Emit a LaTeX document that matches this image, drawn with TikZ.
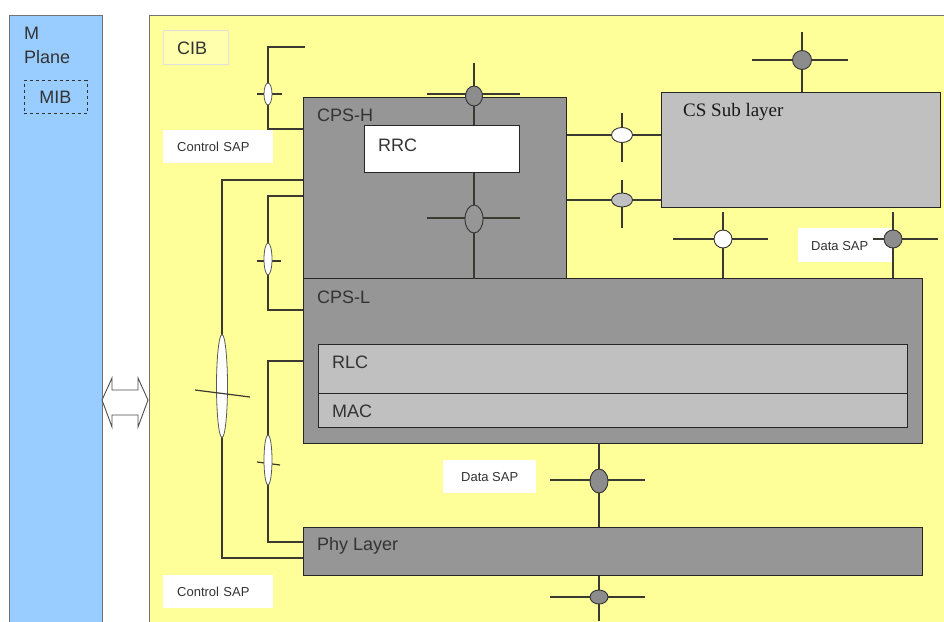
\documentclass[tikz,border=0pt]{standalone}
\usepackage{fontspec}
\setmainfont{Liberation Sans}
\newfontfamily\csfont{Liberation Serif}
\usetikzlibrary{shapes.geometric,positioning,calc}

\definecolor{mplane}{HTML}{99CCFF}
\definecolor{cibfill}{HTML}{FFFF99}
\definecolor{cps}{HTML}{969696}
\definecolor{sub}{HTML}{C0C0C0}
\definecolor{wire}{HTML}{3A3A30}
\definecolor{tapgray}{HTML}{8C8C8C}

\tikzset{
  box/.style={draw=black!85, line width=1pt, anchor=north west, inner sep=0pt},
  lbl/.style={anchor=west, inner sep=0pt, font=\fontsize{18}{20}\selectfont, text=black!80},
  sapbox/.style={fill=white, anchor=north west, inner sep=0pt},
  saptxt/.style={inner sep=0pt, font=\fontsize{13}{15}\selectfont, text=black!80},
  wire/.style={draw=wire, line width=1.2pt},
  tap/.style={ellipse, draw=black!80, line width=0.9pt, inner sep=0pt, fill=tapgray},
  slim/.style={ellipse, draw=black!65, line width=0.8pt, inner sep=0pt, fill=white},
}

\begin{document}
\begin{tikzpicture}[x=1pt,y=-1pt]
\useasboundingbox (0,0) rectangle (944,621);

% Planes
\node[box, draw=black!55, fill=mplane, minimum width=93pt, minimum height=620pt] (mpl) at (9,15) {};
\node[box, draw=black!55, fill=cibfill, minimum width=800pt, minimum height=620pt] (cib) at (149,15) {};
\node[lbl] (mtxt) at (24,33) {M};
\node[lbl] (planetxt) at (24,57) {Plane};
\node[draw=black!80, dashed, line width=0.8pt, minimum width=63pt, minimum height=33pt, inner sep=0pt] (mib) at (55.5,97) {};
\node[lbl, anchor=center] (mibtxt) at (mib) {MIB};
\node[box, draw=black!12, fill=cibfill!80!white, minimum width=65pt, minimum height=34pt] (cibbox) at (163,30) {};
\node[lbl] (cibtxt) at (177,48) {CIB};

% Double arrow between planes
\draw[draw=black!70, fill=white, line width=0.9pt]
  (102,400) -- (112,378) -- (112,390) -- (138,390) -- (138,378) -- (148,400)
  -- (138,427) -- (138,415) -- (112,415) -- (112,427) -- cycle;

% Layers
\node[box, fill=cps, minimum width=263pt, minimum height=181pt] (cpsh) at (303,97) {};
\node[lbl] (cpshtxt) at (317,115) {CPS-H};
\node[box, fill=white, minimum width=155pt, minimum height=47pt] (rrc) at (364,125) {};
\node[lbl] (rrctxt) at (378,145) {RRC};
\node[box, fill=cps, minimum width=619pt, minimum height=165pt] (cpsl) at (303,278) {};
\node[lbl] (cpsltxt) at (317,297) {CPS-L};
\node[box, fill=sub, minimum width=589pt, minimum height=49pt] (rlc) at (318,344) {};
\node[lbl] (rlctxt) at (332,362) {RLC};
\node[box, fill=sub, minimum width=589pt, minimum height=34pt] (mac) at (318,393) {};
\node[lbl] (mactxt) at (332,411) {MAC};
\node[box, fill=cps, minimum width=619pt, minimum height=48pt] (phy) at (303,527) {};
\node[lbl] (phytxt) at (317,546) {Phy Layer};
\node[box, fill=sub, minimum width=279pt, minimum height=115pt] (cs) at (661,92) {};
\node[lbl, font=\csfont\fontsize{19}{21}\selectfont, text=black!90] (cstxt) at (683,112) {CS Sub layer};

% SAP labels
\node[sapbox, minimum width=110pt, minimum height=33pt] (csap1) at (163,130) {};
\node[saptxt, anchor=west] (csap1txt) at (177,147) {Control\,\,SAP};
\node[sapbox, minimum width=110pt, minimum height=33pt] (csap2) at (163,575) {};
\node[saptxt, anchor=west] (csap2txt) at (177,592) {Control\,\,SAP};
\node[sapbox, minimum width=93pt, minimum height=33pt] (dsap1) at (443,460) {};
\node[saptxt] (dsap1txt) at (dsap1) {Data SAP};
\node[sapbox, minimum width=94pt, minimum height=34pt] (dsap2) at (798,228) {};
\node[saptxt, anchor=west] (dsap2txt) at (811,246) {Data SAP};

% Taps through CPS-H
\coordinate (a1) at (474,63);
\draw[wire] (a1) -- (a1 |- rrc.north);
\draw[wire] (a1 |- rrc.south) -- (a1 |- cpsh.south);
\draw[wire] (427,94) -- (520,94);
\node[tap, minimum width=17pt, minimum height=20pt] (tapa) at (474,96) {};
\draw[wire] (427,218) -- (520,218);
\node[tap, fill=cps, minimum width=18pt, minimum height=28pt] (tapb) at (474,219) {};

% CPS-H to CS
\coordinate (b1) at (cpsh.east |- 0,135);
\coordinate (b2) at (cpsh.east |- 0,200);
\draw[wire] (b1) -- (b1 -| cs.west);
\draw[wire] (b2) -- (b2 -| cs.west);
\draw[wire] (622,113) -- (622,162);
\draw[wire] (622,180) -- (622,228);
\node[tap, fill=white, minimum width=21pt, minimum height=15pt] (tapc) at (622,135) {};
\node[tap, fill=sub, minimum width=21pt, minimum height=14pt] (tapd) at (622,200) {};

% CS taps
\coordinate (c1) at (802,32);
\draw[wire] (c1) -- (c1 |- cs.north);
\draw[wire] (752,60) -- (848,60);
\node[tap, circle, minimum size=19pt] (tape) at (802,60) {};
\coordinate (c2) at (723,212);
\draw[wire] (c2) -- (c2 |- cpsl.north);
\draw[wire] (673,239) -- (768,239);
\node[tap, circle, fill=white, minimum size=18pt] (tapf) at (723,239) {};
\coordinate (c3) at (893,212);
\draw[wire] (c3) -- (c3 |- cpsl.north);
\draw[wire] (873,239) -- (938,239);
\node[tap, circle, minimum size=18pt] (tapg) at (893,239) {};

% Taps to Phy Layer
\coordinate (d1) at (599,443);
\draw[wire] (d1) -- (d1 |- phy.north);
\draw[wire] (550,480) -- (645,480);
\node[tap, minimum width=18pt, minimum height=24pt] (taph) at (599,481) {};
\coordinate (d2) at (599,621);
\draw[wire] (d2 |- phy.south) -- (d2);
\draw[wire] (550,597) -- (645,597);
\node[tap, minimum width=18pt, minimum height=14pt] (tapi) at (599,597) {};

% Control SAP lines
\draw[wire] (305,47) -- (268,47) -- (268,129) -- (cpsh.west |- 0,129);
\draw[wire] (257,94) -- (282,94);
\node[slim, minimum width=8pt, minimum height=22pt] (tapj) at (268,94) {};
\draw[wire] (cpsh.west |- 0,180) -- (222,180) -- (222,558) -- (phy.west |- 0,558);
\node[slim, minimum width=11pt, minimum height=103pt] (tapk) at (222,386) {};
\draw[wire] (195,390) -- (250,397);
\draw[wire] (cpsh.west |- 0,196) -- (268,196) -- (268,310) -- (cpsl.west |- 0,310);
\draw[wire] (257,261) -- (281,261);
\node[slim, minimum width=8pt, minimum height=32pt] (tapl) at (268,259) {};
\draw[wire] (cpsl.west |- 0,361) -- (268,361) -- (268,542) -- (phy.west |- 0,542);
\draw[wire] (257,462) -- (280,465);
\node[slim, minimum width=8pt, minimum height=50pt] (tapm) at (268,460) {};

\end{tikzpicture}
\end{document}
